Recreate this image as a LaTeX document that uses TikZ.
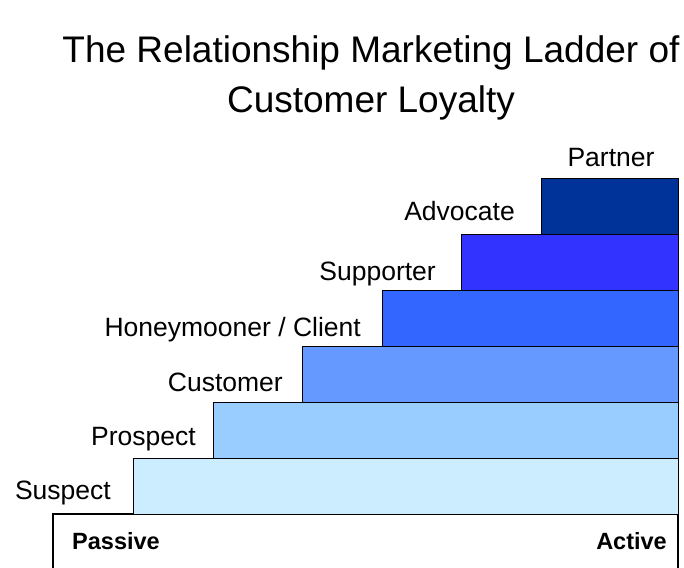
\documentclass[tikz,border=0pt]{standalone}
\usepackage{fontspec}
\setmainfont{Liberation Sans}
\usetikzlibrary{positioning}

\definecolor{rungA}{HTML}{CCECFF}
\definecolor{rungB}{HTML}{99CCFF}
\definecolor{rungC}{HTML}{6699FF}
\definecolor{rungD}{HTML}{3366FF}
\definecolor{rungE}{HTML}{3333FF}
\definecolor{rungF}{HTML}{003399}

\tikzset{
    rung/.style={draw=black, line width=1.2pt, anchor=north west, minimum height=56pt, inner sep=0pt},
    tag/.style={anchor=base east, inner sep=0pt, font=\fontsize{26.5}{30}\selectfont},
    endtag/.style={inner sep=0pt, font=\fontsize{23.5}{28}\selectfont\bfseries},
    headline/.style={anchor=base, inner sep=0pt, font=\fontsize{37}{42}\selectfont}
}

\begin{document}
\begin{tikzpicture}[x=1pt, y=-1pt]
    \useasboundingbox (0,0) rectangle (684,567);
    \clip (0,0) rectangle (684,567);

    % title
    \node[headline] (title) at (371,63) {The Relationship Marketing Ladder of};
    \node[headline] (subtitle) at (371,113) {Customer Loyalty};

    % base
    \draw[line width=1.2pt] (53,580) -- (53,514) -- (678,514) -- (678,580);
    \node[endtag, anchor=base west] (passive) at (72,549) {Passive};
    \node[endtag, anchor=base east] (active) at (667,549) {Active};

    % rungs
    \node[rung, fill=rungA, minimum width=545pt] (suspect) at (133,458) {};
    \node[rung, fill=rungB, minimum width=465pt] (prospect) at (213,402) {};
    \node[rung, fill=rungC, minimum width=376pt] (customer) at (302,346) {};
    \node[rung, fill=rungD, minimum width=296pt] (client) at (382,290) {};
    \node[rung, fill=rungE, minimum width=217pt] (supporter) at (461,234) {};
    \node[rung, fill=rungF, minimum width=137pt] (advocate) at (541,178) {};

    % labels
    \node[tag] (suspecttag) at (111,499) {Suspect};
    \node[tag] (prospecttag) at (196,445) {Prospect};
    \node[tag] (customertag) at (283,391) {Customer};
    \node[tag] (clienttag) at (361,336) {Honeymooner / Client};
    \node[tag] (supportertag) at (436,280) {Supporter};
    \node[tag] (advocatetag) at (515,220) {Advocate};
    \node[tag, anchor=base] (partnertag) at (611,166) {Partner};
\end{tikzpicture}
\end{document}
